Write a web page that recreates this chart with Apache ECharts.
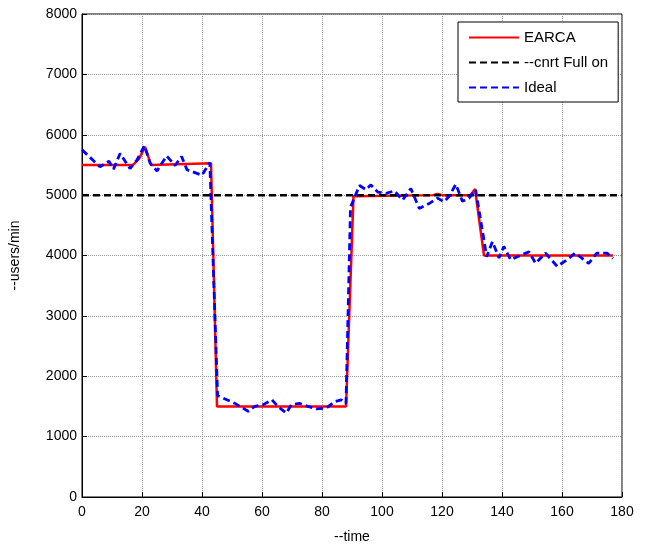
<!DOCTYPE html>
<html>
<head>
<meta charset="utf-8">
<script src="https://cdn.jsdelivr.net/npm/echarts@6/dist/echarts.min.js"></script>
<style>
    html, body { margin: 0; padding: 0; background: #fff; }
    #chart { width: 665px; height: 549px; }
</style>
</head>
<body>
<div id="chart"></div>
<script>
// EARCA (red solid)
var earcaT = [0, 17, 19, 21, 23, 43, 45, 88, 90.5, 117, 118.5, 120, 129.5, 131, 134, 177];
var earcaV = [5500, 5500, 5600, 5800, 5500, 5530, 1500, 1500, 4980, 5000, 5020, 5000, 5000, 5100, 4000, 4000];

// --cnrt Full on (black dashed)
var fullOnT = [0, 180];
var fullOnV = [5000, 5000];

// Ideal (blue dashed)
var idealT = [0, 6, 9, 10.5, 12.7, 16, 18.3, 20.8, 22.7, 25, 28.2, 31, 33.2, 35, 40, 42.6,
    45.2, 51, 55.4, 57.6, 60.4, 63.3, 65.3, 68.1, 69.8, 72.5, 75.3, 78.1, 81.4, 84.2, 86.4, 88,
    89.5, 92.5, 94.7, 96.3, 98.6, 101.3, 104.1, 106.9, 109.6, 112.4, 115.7, 118.5, 120.7, 122.4,
    124.6, 126.8, 129, 131.2, 134.9, 136.8, 139, 140.6, 142.9, 145.1, 149, 151.2, 154.5, 158.4,
    161.7, 164.4, 168.9, 171.6, 175, 177];
var idealV = [5750, 5470, 5560, 5430, 5690, 5440, 5580, 5820, 5530, 5400, 5650, 5490, 5640, 5420, 5330, 5540,
    1680, 1550, 1420, 1500, 1530, 1610, 1500, 1390, 1530, 1550, 1500, 1460, 1470, 1580, 1610, 1550,
    4800, 5160, 5090, 5170, 5050, 5030, 5070, 4920, 5110, 4780, 4860, 4950, 4890, 4980,
    5180, 4900, 4950, 5090, 3980, 4230, 3960, 4150, 3930, 3980, 4060, 3870, 4040, 3820,
    3930, 4040, 3870, 4040, 4040, 3950];

var xTicks = { min: 0, max: 180, interval: 20 };
var yTicks = { min: 0, max: 8000, interval: 1000 };

function pairs(t, v) {
    return t.map(function (x, i) { return [x, v[i]]; });
}

var myChart = echarts.init(document.getElementById('chart'));
var font = 'Liberation Sans, Arial, sans-serif';
var option = {
    animation: false,
    backgroundColor: '#fff',
    textStyle: { fontFamily: font },
    grid: {
        left: 80, right: 43, top: 14, bottom: 52,
        show: true, borderColor: '#000', borderWidth: 1
    },
    legend: {
        data: ['EARCA', '--cnrt Full on', 'Ideal'],
        orient: 'vertical',
        left: 458, top: 22,
        itemWidth: 50, itemHeight: 14, itemGap: 10,
        padding: [8, 10, 7, 10],
        borderColor: '#000', borderWidth: 1,
        backgroundColor: '#fff',
        itemStyle: { opacity: 0 },
        textStyle: { fontSize: 15, color: '#000', fontFamily: font }
    },
    xAxis: {
        type: 'value',
        min: xTicks.min, max: xTicks.max, interval: xTicks.interval,
        name: '--time', nameLocation: 'middle', nameGap: 33,
        nameTextStyle: { fontSize: 14, color: '#000' },
        axisLine: { show: true, lineStyle: { color: '#000' } },
        axisTick: { show: true, inside: true, length: 5, lineStyle: { color: '#000' } },
        axisLabel: { fontSize: 14, color: '#000', margin: 8 },
        splitLine: { show: true, lineStyle: { color: '#999', type: 'dotted' } }
    },
    yAxis: {
        type: 'value',
        min: yTicks.min, max: yTicks.max, interval: yTicks.interval,
        name: '--users/min', nameLocation: 'middle', nameGap: 60,
        nameTextStyle: { fontSize: 14, color: '#000' },
        axisLine: { show: true, lineStyle: { color: '#000' } },
        axisTick: { show: true, inside: true, length: 5, lineStyle: { color: '#000' } },
        axisLabel: { fontSize: 14, color: '#000', margin: 5, formatter: function (v) { return String(v); } },
        splitLine: { show: true, lineStyle: { color: '#999', type: 'dotted' } }
    },
    series: [
        {
            name: 'EARCA', type: 'line', symbol: 'none',
            data: pairs(earcaT, earcaV),
            lineStyle: { color: '#ff0000', width: 2.5 },
            itemStyle: { color: '#ff0000' }
        },
        {
            name: '--cnrt Full on', type: 'line', symbol: 'none',
            data: pairs(fullOnT, fullOnV),
            lineStyle: { color: '#000', width: 2.5, type: [7, 4] },
            itemStyle: { color: '#000' }
        },
        {
            name: 'Ideal', type: 'line', symbol: 'none',
            data: pairs(idealT, idealV),
            lineStyle: { color: '#0000ff', width: 2.8, type: [7, 4] },
            itemStyle: { color: '#0000ff' }
        }
    ]
};
myChart.setOption(option);
</script>
</body>
</html>
